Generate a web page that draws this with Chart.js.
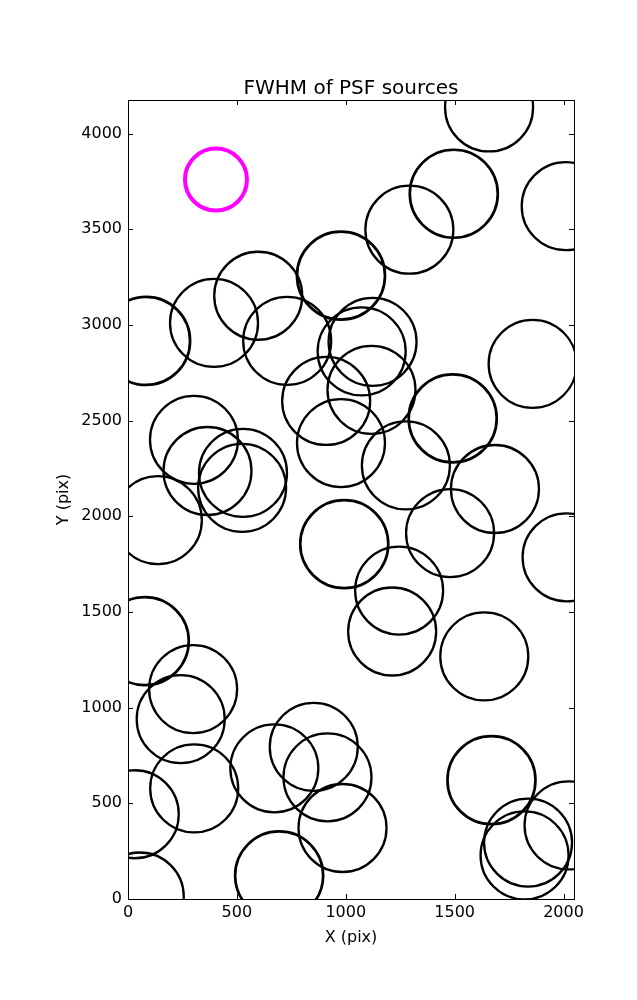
<!DOCTYPE html>
<html>
<head>
<meta charset="utf-8">
<script src="https://cdn.jsdelivr.net/npm/chart.js@4"></script>
<style>
  html, body { margin: 0; padding: 0; background: #fff; }
  #psfChart { display: block; }
</style>
</head>
<body>
<canvas id="psfChart" width="637" height="1000"></canvas>
<script>
// Source positions (detector pixels)
const sourceX = [1658, 1496, 1292, 2010, 978, 598, 395, 83, 731, 1123, 1073, 1118, 1858, 1491, 910,
  978, 303, 365, 528, 524, 137, 993, 1276, 1685, 1479, 2014, 1245, 1213, 1636, 77,
  299, 242, 304, 31, 54, 672, 853, 916, 985, 694, 1669, 1837, 1821, 2023];
const sourceY = [4137, 3686, 3498, 3621, 3258, 3153, 3011, 2917, 2917, 2912, 2862, 2661, 2797, 2512, 2603,
  2383, 2400, 2237, 2227, 2149, 1980, 1855, 2266, 2143, 1912, 1786, 1612, 1398, 1268, 1348,
  1097, 940, 578, 443, 13, 683, 795, 636, 371, 123, 621, 295, 228, 385];
// reference FWHM marker
const refX = [404];
const refY = [3760];

const xTicks = [0, 500, 1000, 1500, 2000];
const yTicks = [0, 500, 1000, 1500, 2000, 2500, 3000, 3500, 4000];
const xRange = [0, 2048];
const yRange = [0, 4176];

// some circles are drawn a bit heavier
const thickIdx = [1, 4, 7, 13, 21, 29, 39, 40];
const lineWidths = sourceX.map((_, i) => thickIdx.includes(i) ? 2.7 : 2.3);

const FONT = '"DejaVu Sans", sans-serif';

// frame, inward ticks, title and axis labels, matplotlib style
const frame = {
  id: 'frame',
  afterDraw(chart) {
    const c = chart.ctx, a = chart.chartArea;
    const xs = chart.scales.x, ys = chart.scales.y;
    const tl = 5;
    c.save();
    c.strokeStyle = '#000';
    c.lineWidth = 1;
    c.strokeRect(Math.round(a.left) + 0.5, Math.round(a.top) + 0.5,
      Math.round(a.right - a.left), Math.round(a.bottom - a.top));
    c.beginPath();
    xTicks.forEach(v => {
      const px = Math.round(xs.getPixelForValue(v)) + 0.5;
      c.moveTo(px, a.bottom); c.lineTo(px, a.bottom - tl);
      c.moveTo(px, a.top); c.lineTo(px, a.top + tl);
    });
    yTicks.forEach(v => {
      const py = Math.round(ys.getPixelForValue(v)) + 0.5;
      c.moveTo(a.left, py); c.lineTo(a.left + tl, py);
      c.moveTo(a.right, py); c.lineTo(a.right - tl, py);
    });
    c.stroke();

    c.fillStyle = '#000';
    c.textAlign = 'center';
    c.textBaseline = 'alphabetic';
    c.font = '20px ' + FONT;
    c.fillText('FWHM of PSF sources', (a.left + a.right) / 2, 94);
    c.font = '16px ' + FONT;
    c.textBaseline = 'middle';
    c.fillText('X (pix)', (a.left + a.right) / 2, 938);
    c.translate(64, (a.top + a.bottom) / 2);
    c.rotate(-Math.PI / 2);
    c.fillText('Y (pix)', 0, 0);
    c.restore();
  }
};

const ctx = document.getElementById('psfChart').getContext('2d');

new Chart(ctx, {
  type: 'scatter',
  data: {
    datasets: [
      {
        label: 'reference',
        data: refX.map((x, i) => ({ x: x, y: refY[i] })),
        pointStyle: 'circle',
        pointRadius: 31,
        pointBorderWidth: 4,
        pointBorderColor: '#ff00ff',
        pointBackgroundColor: 'rgba(0,0,0,0)',
        clip: 0
      },
      {
        label: 'sources',
        data: sourceX.map((x, i) => ({ x: x, y: sourceY[i] })),
        pointStyle: 'circle',
        pointRadius: 44,
        pointBorderWidth: lineWidths,
        pointBorderColor: '#000',
        pointBackgroundColor: 'rgba(0,0,0,0)',
        clip: 0
      }
    ]
  },
  options: {
    responsive: false,
    animation: false,
    events: [],
    layout: { padding: { left: 0, top: 100, right: 63, bottom: 0 } },
    scales: {
      x: {
        type: 'linear',
        min: xRange[0],
        max: xRange[1],
        afterBuildTicks: s => { s.ticks = xTicks.map(v => ({ value: v })); },
        afterFit: s => { s.height = 101; },
        grid: { display: false, drawTicks: false },
        border: { display: false },
        ticks: {
          color: '#000', padding: 4, maxRotation: 0,
          font: { family: FONT, size: 16 },
          callback: v => String(v)
        }
      },
      y: {
        type: 'linear',
        min: yRange[0],
        max: yRange[1],
        afterBuildTicks: s => { s.ticks = yTicks.map(v => ({ value: v })); },
        afterFit: s => { s.width = 128; },
        grid: { display: false, drawTicks: false },
        border: { display: false },
        ticks: {
          color: '#000', padding: 6,
          font: { family: FONT, size: 16 },
          callback: v => String(v)
        }
      }
    },
    plugins: {
      legend: { display: false },
      tooltip: { enabled: false }
    }
  },
  plugins: [frame]
});
</script>
</body>
</html>
